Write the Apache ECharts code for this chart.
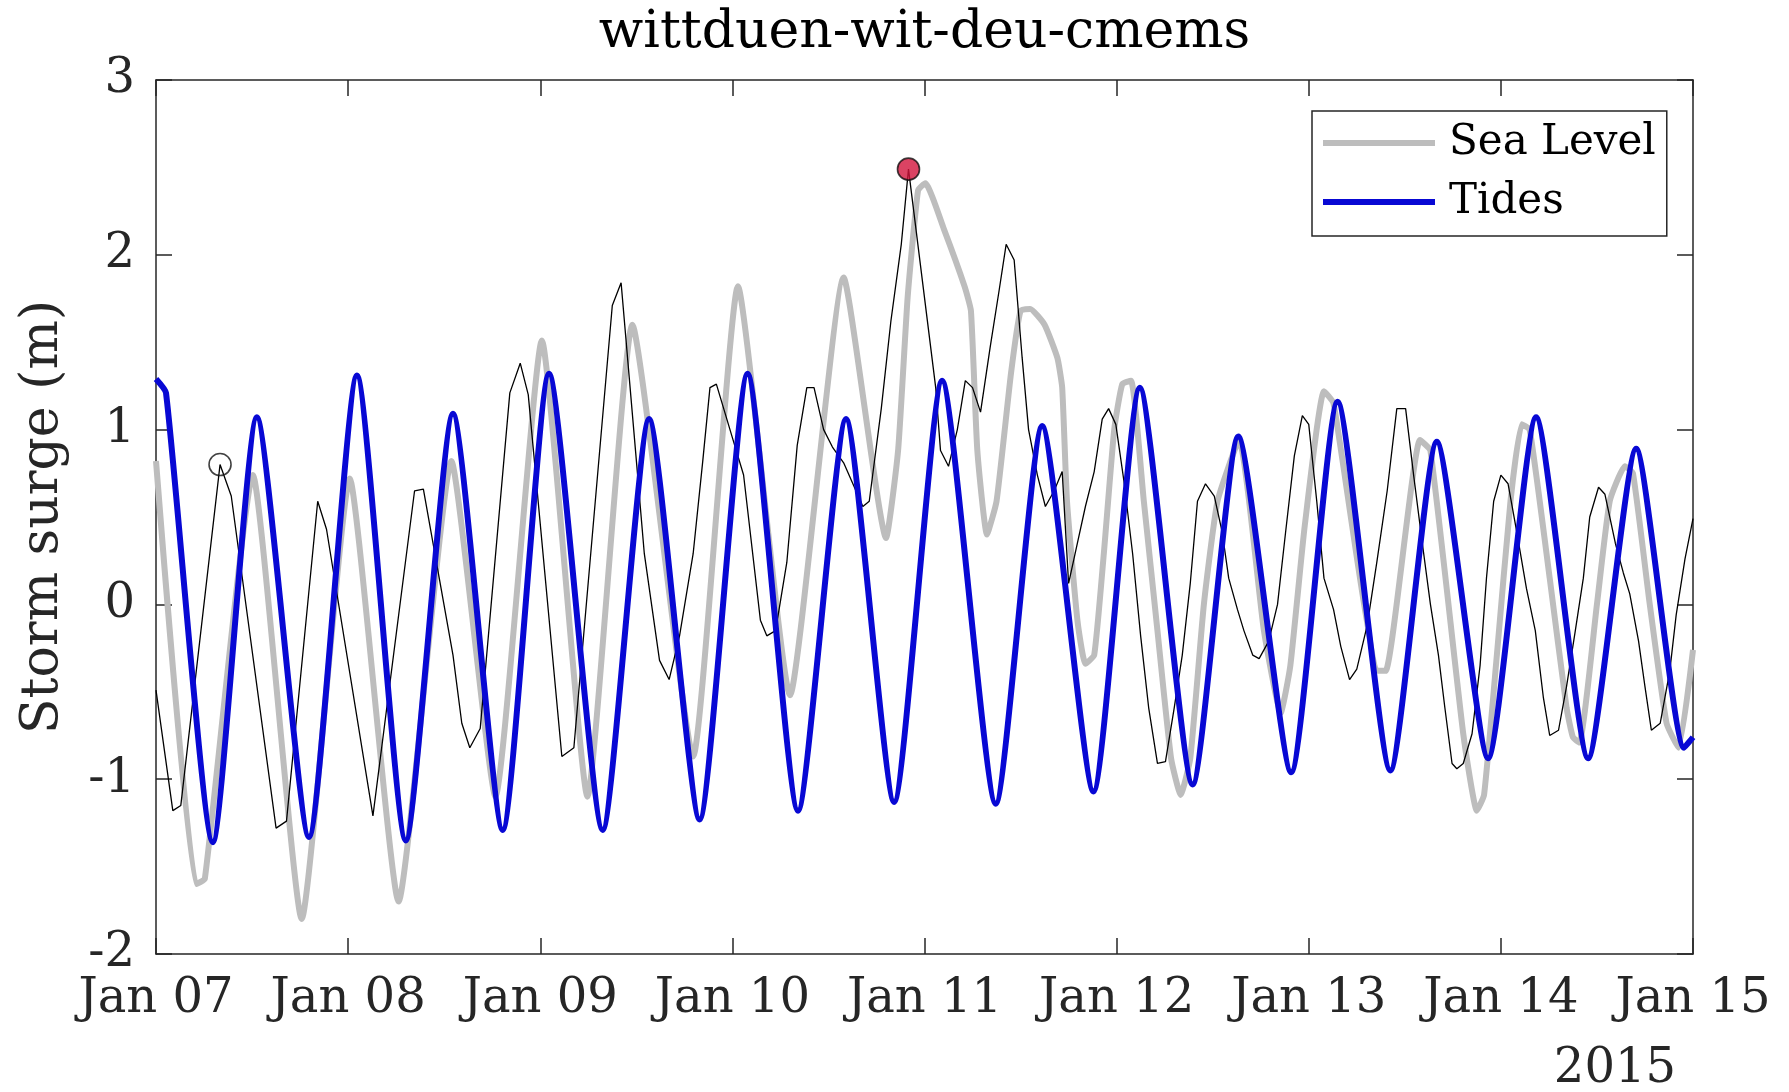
<!DOCTYPE html>
<html>
<head>
<meta charset="utf-8">
<script src="https://cdn.jsdelivr.net/npm/echarts@6/dist/echarts.min.js"></script>
<style>
html,body{margin:0;padding:0;background:#ffffff;}
#chart{width:1789px;height:1092px;}
</style>
</head>
<body>
<div id="chart"></div>
<script>
// ---------- text ----------
const titleText = 'wittduen-wit-deu-cmems';
const yAxisTitle = 'Storm surge (m)';
const yearLabel = '2015';
const tickLabels = ['Jan 07','Jan 08','Jan 09','Jan 10','Jan 11','Jan 12','Jan 13','Jan 14','Jan 15'];
const legendNames = ['Sea Level','Tides'];

// ---------- data: [hours since 2015-01-07 00:00, metres] ----------
const seaLevel = [
  [0,0.82],[5,-1.6],[6.1,-1.57],[12.1,0.74],[18.2,-1.8],[24.2,0.72],[30.3,-1.7],[36.9,0.82],
  [42.4,-1.1],[48.2,1.51],[53.9,-1.1],[59.5,1.6],[67.1,-0.87],[72.7,1.82],[79.2,-0.52],[85.9,1.87],
  [91.2,0.38],[92.7,0.88],[93.9,1.76],[95.2,2.37],[96.1,2.41],[98.4,2.15],[101,1.82],[101.8,1.68],
  [102.6,0.88],[103.8,0.40],[105,0.59],[106.8,1.32],[108,1.68],[109.2,1.69],[111,1.60],[112.6,1.41],
  [113.2,1.24],[113.8,0.59],[115.1,-0.09],[116.1,-0.34],[117.2,-0.29],[118.4,0.29],[119.7,1.0],
  [120.7,1.26],[121.8,1.28],[123.4,0.59],[125.1,-0.15],[126.8,-0.88],[128,-1.09],[129.2,-0.88],
  [130.9,0],[132.6,0.59],[135.3,0.94],[138.4,-0.15],[140.5,-0.62],[141.7,-0.35],[143.5,0.45],
  [145.9,1.22],[147.1,1.15],[152.7,-0.38],[153.6,-0.38],[157.9,0.94],[159.2,0.88],[163.3,-0.74],
  [165,-1.18],[165.9,-1.09],[167.5,-0.29],[169.2,0.59],[170.6,1.03],[171.6,1.0],[174.1,0.15],
  [176.2,-0.59],[177,-0.76],[177.8,-0.79],[180,0],[181.6,0.59],[183.5,0.79],[184.5,0.75],
  [186.6,0],[188.7,-0.68],[190.2,-0.82],[192,-0.26]
];

const tides = [
  [0,1.29],[1.25,1.21],[7.1,-1.36],[12.6,1.07],[19.1,-1.33],[25.1,1.31],[31.2,-1.35],[37.1,1.09],
  [43.3,-1.29],[49.1,1.32],[55.8,-1.29],[61.6,1.06],[67.9,-1.23],[73.9,1.32],[80.2,-1.18],[86.2,1.06],
  [92.2,-1.13],[98.2,1.28],[104.9,-1.14],[110.7,1.02],[117.1,-1.07],[122.9,1.24],[129.5,-1.03],
  [135.2,0.96],[141.8,-0.96],[147.6,1.16],[154.2,-0.95],[160,0.93],[166.4,-0.88],[172.4,1.07],
  [178.9,-0.88],[184.9,0.89],[190.9,-0.82],[192,-0.76]
];

const surge = [
  [0,-0.49],[2.1,-1.18],[3.1,-1.15],[8,0.80],[9.4,0.62],[15,-1.28],[16.3,-1.24],[20.2,0.59],[21.3,0.43],
  [27.1,-1.21],[32.3,0.65],[33.4,0.66],[37.1,-0.29],[38.2,-0.68],[39.2,-0.82],[40.5,-0.71],[44.2,1.21],
  [45.5,1.38],[46.5,1.2],[50.7,-0.87],[52.2,-0.82],[57,1.71],[58.1,1.84],[59.9,0.88],[61,0.29],
  [62.9,-0.32],[64.1,-0.43],[65.4,-0.18],[67.1,0.29],[68.3,0.82],[69.2,1.24],[70,1.26],[71.7,1.0],
  [73.4,0.74],[75.5,-0.09],[76.3,-0.18],[77.4,-0.15],[78.8,0.24],[80.1,0.91],[81.3,1.24],[82.2,1.24],
  [83.4,1.0],[84.5,0.9],[85.9,0.81],[88.3,0.56],[89.1,0.59],[90.6,1.12],[91.8,1.62],[93.1,2.06],
  [94,2.49],[97.4,1.24],[98,0.88],[99,0.79],[100.1,1.0],[101.1,1.28],[102,1.24],[103,1.10],[104.2,1.47],
  [105.3,1.79],[106.2,2.06],[107.2,1.97],[108.2,1.41],[109,1.0],[110.1,0.74],[111.1,0.56],[112.2,0.65],
  [113.2,0.76],[114,0.12],[115.1,0.35],[116.1,0.56],[117.2,0.76],[118.2,1.06],[119,1.12],[119.9,1.03],
  [120.9,0.71],[122,0.29],[123,-0.18],[124,-0.59],[125.1,-0.91],[126.1,-0.90],[127.2,-0.59],
  [128.2,-0.29],[129.2,0.12],[130.1,0.59],[131.1,0.69],[132.2,0.62],[133.2,0.41],[134,0.15],
  [135.1,-0.03],[135.9,-0.15],[137,-0.29],[137.8,-0.31],[139,-0.21],[140.1,0],[141.1,0.41],
  [142.2,0.85],[143.2,1.08],[144,1.03],[145,0.59],[145.9,0.15],[147.1,-0.03],[148,-0.24],[149.1,-0.43],
  [150,-0.37],[151.3,-0.12],[152.5,0.24],[153.8,0.65],[155,1.12],[156.1,1.12],[157.1,0.74],[158.1,0.38],
  [159.2,0],[160.2,-0.29],[161,-0.59],[161.9,-0.91],[162.5,-0.94],[163.3,-0.91],[164.4,-0.74],
  [165.4,-0.35],[166.2,0.15],[167.1,0.59],[168,0.74],[168.9,0.69],[170,0.41],[171.2,0.09],
  [172.3,-0.15],[173.3,-0.53],[174.1,-0.75],[175.2,-0.72],[176.2,-0.47],[177.3,-0.15],[178.3,0.15],
  [179.1,0.5],[180.2,0.67],[181,0.63],[182.3,0.35],[183.3,0.18],[184.1,0.06],[185.2,-0.21],[186,-0.47],
  [186.8,-0.72],[187.9,-0.68],[189.1,-0.38],[189.9,-0.06],[191,0.26],[192,0.49]
];

const firstPeak = [8, 0.80];
const maxPeak = [94, 2.49];

// ---------- chart ----------
const FONT = 'DejaVu Serif';
const AX = '#262626';
const chart = echarts.init(document.getElementById('chart'), null, {renderer: 'canvas'});

const boxAxis = (extra) => Object.assign({
  axisLine: {show: true, onZero: false, lineStyle: {color: AX, width: 1.5}},
  axisTick: {show: true, inside: true, length: 16, lineStyle: {color: AX, width: 1.5}},
  splitLine: {show: false},
  minorTick: {show: false}
}, extra);

const option = {
  animation: false,
  backgroundColor: '#ffffff',
  grid: {left: 156, right: 96, top: 80, bottom: 138, containLabel: false, outerBoundsMode: 'none'},
  graphic: [
    {type: 'text', x: 924.5, y: 33, silent: true,
     style: {text: titleText, fill: '#000', font: '52px "DejaVu Serif"', textAlign: 'center', textVerticalAlign: 'middle'}},
    {type: 'text', x: 1676, y: 1070, silent: true,
     style: {text: yearLabel, fill: AX, font: '48px "DejaVu Serif"', textAlign: 'right', textVerticalAlign: 'middle'}}
  ],
  legend: {
    data: legendNames,
    orient: 'vertical',
    left: 1312, top: 111,
    icon: 'rect', itemWidth: 112, itemHeight: 6, itemGap: 9,
    padding: [7, 11, 9, 11],
    backgroundColor: '#ffffff',
    borderColor: AX, borderWidth: 1.5, borderRadius: 0,
    selectedMode: false,
    textStyle: {fontFamily: FONT, fontSize: 42, color: '#000', lineHeight: 50, padding: [0, 0, 0, 9]}
  },
  xAxis: [
    boxAxis({type: 'value', position: 'bottom', min: 0, max: 192, interval: 24,
      axisLabel: {show: true, margin: 22, fontFamily: FONT, fontSize: 48, color: AX,
        showMinLabel: true, showMaxLabel: true, hideOverlap: false,
        formatter: v => tickLabels[Math.round(v / 24)]}}),
    boxAxis({type: 'value', position: 'top', min: 0, max: 192, interval: 24, axisLabel: {show: false}})
  ],
  yAxis: [
    boxAxis({type: 'value', position: 'left', min: -2, max: 3, interval: 1,
      name: yAxisTitle, nameLocation: 'middle', nameGap: 87, nameRotate: 90,
      nameTextStyle: {fontFamily: FONT, fontSize: 52, color: AX},
      axisLabel: {show: true, margin: 21, fontFamily: FONT, fontSize: 48, color: AX,
        showMinLabel: true, showMaxLabel: true}}),
    boxAxis({type: 'value', position: 'right', min: -2, max: 3, interval: 1, axisLabel: {show: false}})
  ],
  series: [
    {name: 'Sea Level', type: 'line', xAxisIndex: 0, yAxisIndex: 0, data: seaLevel,
     showSymbol: false, symbol: 'none', smooth: 0.15, silent: true, z: 2,
     lineStyle: {color: '#bdbdbd', width: 6}, itemStyle: {color: '#bdbdbd'}},
    {name: 'Surge', type: 'line', xAxisIndex: 0, yAxisIndex: 0, data: surge,
     showSymbol: false, symbol: 'none', smooth: false, silent: true, z: 3,
     lineStyle: {color: '#000000', width: 1.3}, itemStyle: {color: '#000000'}},
    {name: 'Tides', type: 'line', xAxisIndex: 0, yAxisIndex: 0, data: tides,
     showSymbol: false, symbol: 'none', smooth: 0.2, silent: true, z: 4,
     lineStyle: {color: '#0808d4', width: 6}, itemStyle: {color: '#0808d4'}},
    {name: 'Markers', type: 'scatter', xAxisIndex: 0, yAxisIndex: 0, silent: true, z: 5,
     symbol: 'circle', symbolSize: 22,
     data: [
       {value: firstPeak, itemStyle: {color: 'rgba(255,255,255,0)', borderColor: '#111', borderWidth: 1.6}},
       {value: maxPeak, itemStyle: {color: '#d2143c', borderColor: '#111', borderWidth: 1.6}}
     ]}
  ]
};
chart.setOption(option);
</script>
</body>
</html>
